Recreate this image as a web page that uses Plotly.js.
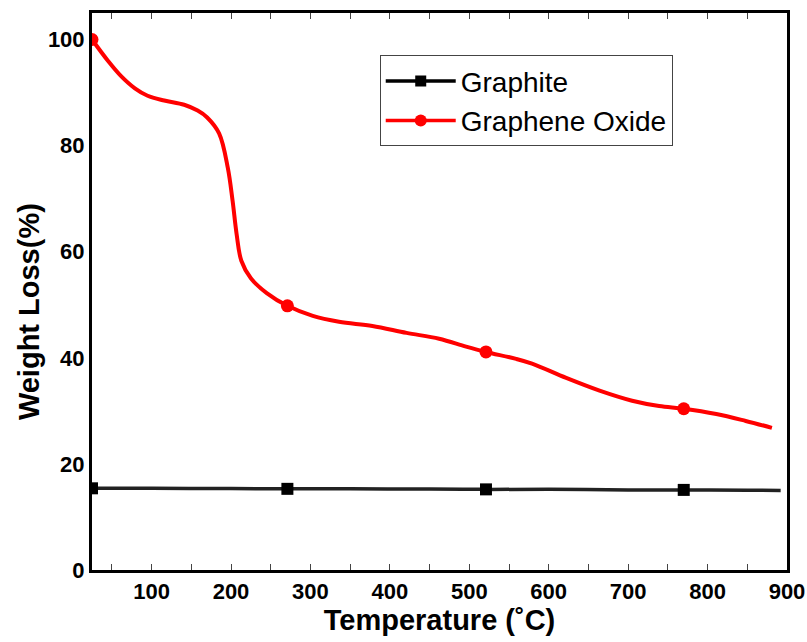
<!DOCTYPE html>
<html>
<head>
<meta charset="utf-8">
<script src="https://cdn.plot.ly/plotly-3.0.1.min.js"></script>
<style>html,body{margin:0;padding:0;background:#fff}#chart{width:807px;height:642px}</style>
</head>
<body>
<div id="chart"></div>
<script>
// Graphite (TGA) curve
var graphiteT = [25, 100, 200, 271, 350, 450, 521, 600, 700, 770, 850, 892];
var graphiteW = [15.4, 15.4, 15.35, 15.3, 15.3, 15.25, 15.2, 15.2, 15.1, 15.1, 15.05, 15.0];
var graphiteMarkT = [25, 271, 521, 770];
var graphiteMarkW = [15.4, 15.3, 15.2, 15.1];

// Graphene oxide (TGA) curve
var goT = [25, 45, 61, 79, 95, 116, 141, 158, 170, 185, 196, 202, 207, 213, 225, 245, 271, 303, 336, 378, 421, 462, 496, 521, 559, 579, 622, 664, 705, 739, 770, 811, 848, 881];
var goW = [100, 96, 93.2, 90.8, 89.4, 88.5, 87.7, 86.6, 85.3, 82.3, 75.8, 69.6, 63.4, 58.3, 55, 52.2, 49.8, 47.9, 46.8, 46, 44.7, 43.6, 42.1, 41.1, 39.8, 38.9, 36.2, 33.8, 31.9, 30.9, 30.4, 29.4, 28.1, 26.8];
var goMarkT = [25, 271, 521, 770];
var goMarkW = [100, 49.8, 41.1, 30.4];

var traces = [
  {x: graphiteT, y: graphiteW, mode: 'lines', line: {color: '#222', width: 3.5, shape: 'spline'}, showlegend: false, hoverinfo: 'skip'},
  {x: graphiteMarkT, y: graphiteMarkW, mode: 'markers', marker: {symbol: 'square', size: 12, color: '#000'}, showlegend: false},
  {x: goT, y: goW, mode: 'lines', line: {color: '#ff0000', width: 4, shape: 'spline', smoothing: 1}, showlegend: false, hoverinfo: 'skip'},
  {x: goMarkT, y: goMarkW, mode: 'markers', marker: {symbol: 'circle', size: 13, color: '#ff0000'}, showlegend: false},
  {x: [null], y: [null], name: 'Graphite', mode: 'lines+markers', line: {color: '#000', width: 3.5}, marker: {symbol: 'square', size: 11, color: '#000'}},
  {x: [null], y: [null], name: 'Graphene Oxide', mode: 'lines+markers', line: {color: '#ff0000', width: 3.5}, marker: {symbol: 'circle', size: 12, color: '#ff0000'}}
];

var layout = {
  width: 807, height: 642,
  margin: {l: 92, r: 20, t: 13, b: 72},
  paper_bgcolor: '#fff', plot_bgcolor: '#fff',
  font: {family: 'Liberation Sans, Arial, sans-serif', color: '#000'},
  showlegend: true,
  legend: {
    x: 0.414, y: 0.924, xanchor: 'left', yanchor: 'top',
    bgcolor: '#fff', bordercolor: '#444', borderwidth: 1,
    font: {size: 28, family: 'Liberation Sans, Arial, sans-serif', color: '#000'},
    itemwidth: 70, tracegroupgap: 0
  },
  xaxis: {
    range: [25, 900], tick0: 0, dtick: 100,
    showgrid: false, zeroline: false,
    showline: true, linecolor: '#000', linewidth: 3, mirror: 'ticks',
    ticks: 'inside', ticklen: 6, tickwidth: 1, tickcolor: '#444',
    minor: {dtick: 50, tick0: 0, ticks: 'inside', ticklen: 6, tickwidth: 1, tickcolor: '#444'},
    tickfont: {size: 22, family: 'Liberation Sans, Arial, sans-serif', weight: 'bold'},
    title: {text: '<b>Temperature (˚C)</b>', font: {size: 29}, standoff: 6}
  },
  yaxis: {
    range: [0, 105], tick0: 0, dtick: 20,
    showgrid: false, zeroline: false,
    showline: true, linecolor: '#000', linewidth: 3, mirror: true,
    ticks: '',
    tickfont: {size: 22, family: 'Liberation Sans, Arial, sans-serif', weight: 'bold'},
    title: {text: '<b>Weight Loss(%)&nbsp;&nbsp;&nbsp;&nbsp;&nbsp;</b>', font: {size: 29}, standoff: 0}
  }
};

Plotly.newPlot('chart', traces, layout, {displayModeBar: false, staticPlot: true});
</script>
</body>
</html>
